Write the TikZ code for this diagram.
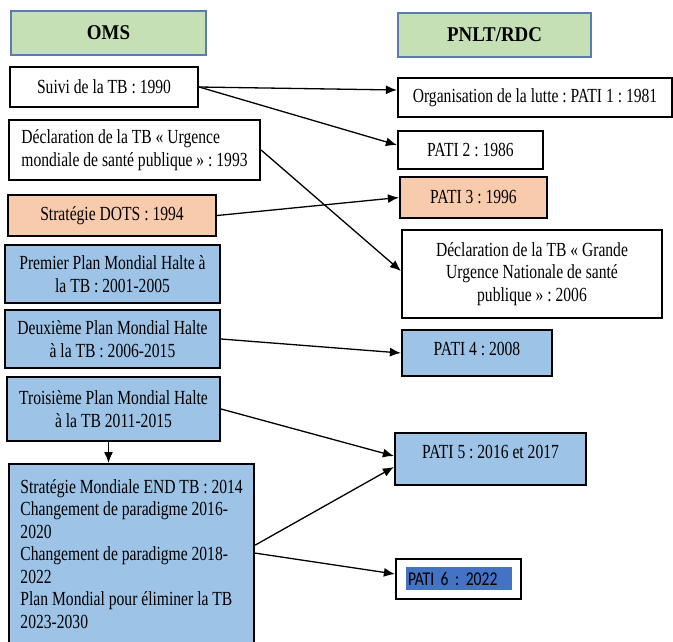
\documentclass[tikz,border=0pt]{standalone}
\usepackage{fontspec}
\setmainfont{Liberation Serif}[FakeStretch=0.78]
\newfontfamily\headfont{Liberation Serif}[FakeStretch=0.9]
\newfontfamily\calibri{Carlito}[FakeStretch=0.8]
\usetikzlibrary{arrows.meta}
\definecolor{headgreen}{HTML}{C5E0B4}
\definecolor{headblue}{HTML}{5A7CB0}
\definecolor{dotspeach}{HTML}{F8CBAD}
\definecolor{planblue}{HTML}{9DC3E6}
\definecolor{hlblue}{HTML}{4472C4}
\frenchspacing
\begin{document}
\begin{tikzpicture}[x=1pt, y=-1pt,
    box/.style={draw, line width=2.2pt, fill=white, inner sep=0pt, font=\fontsize{20}{22.5}\selectfont},
    head/.style={box, draw=headblue, fill=headgreen, line width=2pt, font=\headfont\fontsize{21}{23}\selectfont\bfseries},
    link/.style={line width=1.3pt, -{Latex[length=11pt,width=9pt]}}]
    \fill[white] (0,0) rectangle (673,641);
    \useasboundingbox (0,0) rectangle (673,641);

    \node (oms) at (108.5,33) [head, minimum width=195pt, minimum height=44pt] {OMS};
    \node (pnlt) at (494.5,35) [head, minimum width=193pt, minimum height=44pt] {PNLT/RDC};

    \node (suivi) at (104,87) [box, minimum width=188pt, minimum height=40pt] {Suivi de la TB : 1990};
    \node (decl93) at (134.5,150) [box, minimum width=251pt, minimum height=60pt, align=left] {Déclaration de la TB « Urgence\\mondiale de santé publique » : 1993};
    \node (dots) at (112,215.5) [box, fill=dotspeach, minimum width=208pt, minimum height=41pt] {Stratégie DOTS : 1994};
    \node (plan1) at (112.5,274) [box, fill=planblue, minimum width=215pt, minimum height=58pt, align=center] {Premier Plan Mondial Halte à\\la TB : 2001-2005};
    \node (plan2) at (112.5,339) [box, fill=planblue, minimum width=215pt, minimum height=58pt, align=center] {Deuxième Plan Mondial Halte\\à la TB : 2006-2015};
    \node (plan3) at (113.5,409) [box, fill=planblue, minimum width=213pt, minimum height=64pt, align=center] {Troisième Plan Mondial Halte\\à la TB 2011-2015};
    \node (endtb) at (8,463) [box, anchor=north west, fill=planblue, minimum width=245pt, minimum height=180pt, align=left] {Stratégie Mondiale END TB : 2014\\Changement de paradigme 2016-\\2020\\Changement de paradigme 2018-\\2022\\Plan Mondial pour éliminer la TB\\2023-2030};

    \node (pati1) at (535,97.5) [box, minimum width=274pt, minimum height=39pt] {Organisation de la lutte : PATI 1 : 1981};
    \node (pati2) at (470.5,150) [box, minimum width=145pt, minimum height=38pt] {PATI 2 : 1986};
    \node (pati3) at (473.5,197.5) [box, fill=dotspeach, minimum width=147pt, minimum height=41pt] {PATI 3 : 1996};
    \node (decl06) at (532,274) [box, minimum width=260pt, minimum height=88pt, align=center] {Déclaration de la TB « Grande\\Urgence Nationale de santé\\publique » : 2006};
    \node (pati4) at (477,353) [box, fill=planblue, minimum width=150pt, minimum height=46pt, text depth=9pt] {PATI 4 : 2008};
    \node (pati5) at (490.5,459) [box, fill=planblue, minimum width=191pt, minimum height=52pt, text depth=14pt] {PATI 5 : 2016 et 2017};
    \node (pati6) at (458.5,579) [box, minimum width=125pt, minimum height=40pt] {};
    \node (pati6txt) at (459,578.5) [fill=hlblue, inner sep=0pt, minimum width=106pt, minimum height=23pt, text width=102pt, align=left, font=\calibri\fontsize{19.5}{22}\selectfont] {PATI 6 : 2022};

    \draw[link] (suivi.east) -- ([yshift=7.5pt]pati1.west);
    \draw[link] (suivi.east) -- ([yshift=5pt]pati2.west);
    \draw[link] (decl93.east) -- ([yshift=3pt]decl06.west);
    \draw[link] (dots.east) -- (pati3.west);
    \draw[link] (plan2.east) -- (pati4.west);
    \draw[link] (plan3.east) -- ([yshift=3pt]pati5.west);
    \draw[link] ([yshift=9pt]endtb.east) -- ([yshift=-8pt]pati5.west);
    \draw[link] ([yshift=1pt]endtb.east) -- ([yshift=5pt]pati6.west);
    \draw[link] ([xshift=-5pt]plan3.south) -- ([xshift=-5pt]plan3.south |- endtb.north);
  \end{tikzpicture}
\end{document}
